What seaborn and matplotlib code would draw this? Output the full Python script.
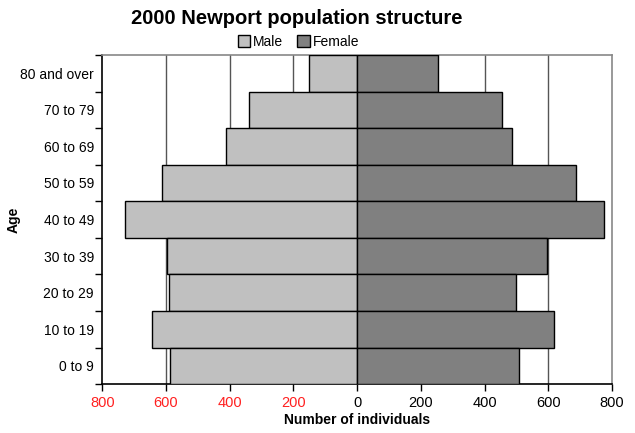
import seaborn as sns
import matplotlib.pyplot as plt
import pandas as pd
import numpy as np
from matplotlib.patches import Patch
from matplotlib.ticker import FixedLocator

# age groups, top to bottom
ages = ["80 and over", "70 to 79", "60 to 69", "50 to 59", "40 to 49",
        "30 to 39", "20 to 29", "10 to 19", "0 to 9"]
male = [152, 340, 413, 611, 727, 598, 590, 643, 587]
female = [253, 453, 487, 687, 774, 595, 498, 619, 507]
xticks = [-800, -600, -400, -200, 0, 200, 400, 600, 800]
xticklabels = ["800", "600", "400", "200", "0", "200", "400", "600", "800"]

df = pd.DataFrame({
    "age": ages * 2,
    "count": [-m for m in male] + female,
    "sex": ["Male"] * len(ages) + ["Female"] * len(ages),
})

sns.set_style("white")
plt.rcParams['font.family'] = ['Liberation Sans', 'DejaVu Sans']
plt.rcParams['text.color'] = 'black'
plt.rcParams['axes.labelcolor'] = 'black'
plt.rcParams['xtick.color'] = 'black'
plt.rcParams['ytick.color'] = 'black'

fig, ax = plt.subplots(figsize=(6.35, 4.33), dpi=100)
fig.subplots_adjust(left=0.161, right=0.964, top=0.873, bottom=0.113)

colors = {"Male": "#c0c0c0", "Female": "#808080"}
sns.barplot(data=df, x="count", y="age", hue="sex", order=ages,
            palette=colors, dodge=False, width=1.0, orient="h",
            edgecolor="black", linewidth=1.0, legend=False, ax=ax, zorder=3)

# gridlines
for v in [-600, -400, -200, 200, 400, 600]:
    ax.axvline(v, color="#555555", lw=1.0, zorder=1)

ax.set_xlim(-800, 800)
ax.set_ylim(len(ages) - 0.5, -0.5)
ax.set_xticks(xticks)
ax.set_xticklabels(xticklabels, fontsize=10.5)
for lab in ax.get_xticklabels()[:4]:
    lab.set_color("#ff2020")

ax.tick_params(axis="y", which="major", length=0, labelsize=10, pad=6)
ax.yaxis.set_minor_locator(FixedLocator(np.arange(-0.5, len(ages), 1.0)))
ax.tick_params(axis="y", which="minor", length=5, width=1, direction="out", left=True)
ax.tick_params(axis="x", which="major", length=5, width=1, direction="out", bottom=True)

ax.spines["left"].set_color("black")
ax.spines["bottom"].set_color("black")
ax.spines["top"].set_color("#888888")
ax.spines["right"].set_color("#888888")
for s in ax.spines.values():
    s.set_linewidth(1.2)

ax.set_xlabel("Number of individuals", fontsize=10, fontweight="bold", labelpad=2)
ax.set_ylabel("Age", fontsize=10, fontweight="bold")
ax.yaxis.set_label_coords(-0.16, 0.5)

fig.text(0.467, 0.958, "2000 Newport population structure", ha="center", va="center",
         fontsize=14.5, fontweight="bold")
handles = [Patch(facecolor=colors["Male"], edgecolor="black", label="Male"),
           Patch(facecolor=colors["Female"], edgecolor="black", label="Female")]
fig.legend(handles=handles, loc="center", bbox_to_anchor=(0.47, 0.903), ncol=2,
           frameon=False, fontsize=10, handlelength=0.9, handleheight=0.9,
           handletextpad=0.2, columnspacing=1.0, borderpad=0)

fig.savefig("out.png", dpi=100)
